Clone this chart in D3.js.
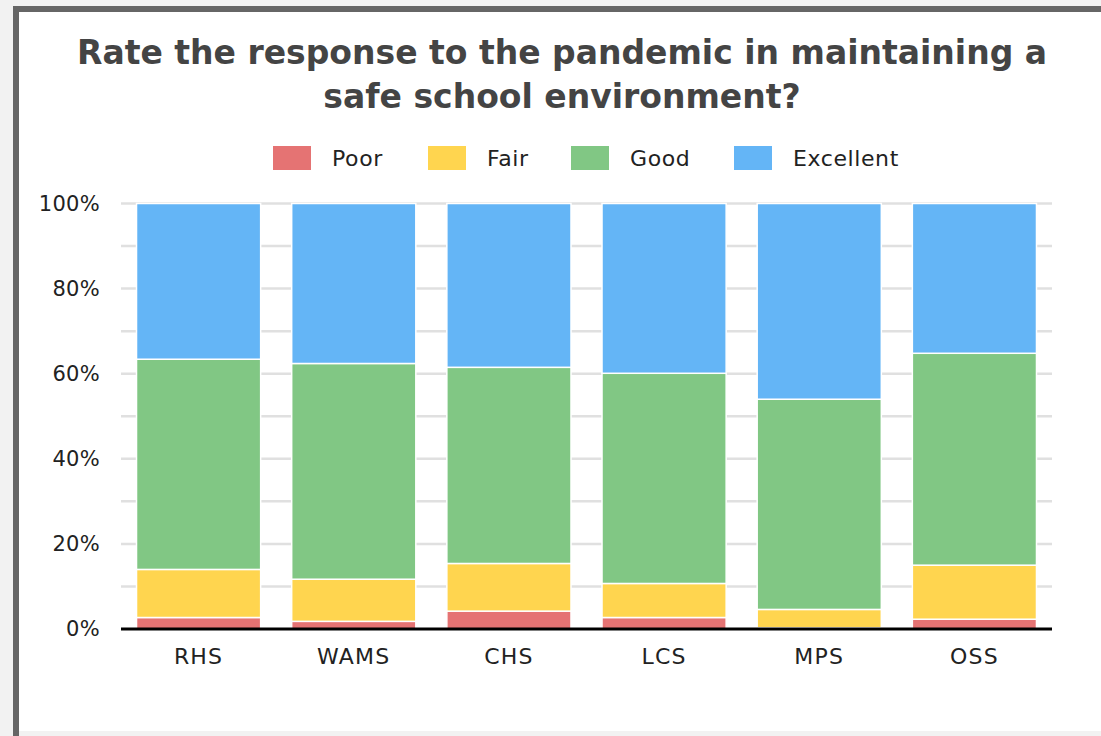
<!DOCTYPE html>
<html>
<head>
<meta charset="utf-8">
<script src="https://cdn.jsdelivr.net/npm/d3@7"></script>
<style>
  html, body { margin: 0; padding: 0; background: #f2f2f2; }
  svg { display: block; }
</style>
</head>
<body>
<script>
// chart data
var schools = ['RHS', 'WAMS', 'CHS', 'LCS', 'MPS', 'OSS'];
var ratings = ['Poor', 'Fair', 'Good', 'Excellent'];
var poor      = [2.7, 1.8, 4.2, 2.7, 0.3, 2.3];
var fair      = [11.3, 9.9, 11.2, 8.0, 4.3, 12.7];
var good      = [49.4, 50.7, 46.1, 49.4, 49.4, 49.8];
var excellent = [36.6, 37.6, 38.5, 39.9, 46.0, 35.2];
var yTicks = [0, 20, 40, 60, 80, 100];
var colors = ['#e57373', '#ffd54f', '#81c784', '#64b5f6'];

var W = 1101, H = 736;
var font = '"DejaVu Sans", sans-serif';

var svg = d3.select('body').append('svg')
    .attr('width', W)
    .attr('height', H);

// frame: dark left and top edge, white card
svg.append('rect').attr('x', 13).attr('y', 6).attr('width', W).attr('height', H)
    .attr('fill', '#666');
svg.append('rect').attr('x', 19).attr('y', 12).attr('width', W).attr('height', H)
    .attr('fill', '#fff');
svg.append('rect').attr('x', 19).attr('y', 731).attr('width', W).attr('height', 10)
    .attr('fill', '#f2f2f2');

// title
var title = svg.append('text')
    .attr('text-anchor', 'middle')
    .attr('fill', '#444')
    .attr('font-family', font)
    .attr('font-weight', 'bold')
    .attr('font-size', 33);
title.append('tspan').attr('x', 562).attr('y', 64).text('Rate the response to the pandemic in maintaining a');
title.append('tspan').attr('x', 562).attr('y', 108).text('safe school environment?');

// build stacked rows
var rows = schools.map(function(s, i) {
    return {school: s, Poor: poor[i], Fair: fair[i], Good: good[i], Excellent: excellent[i]};
});
var series = d3.stack().keys(ratings)(rows);

var margin = {left: 121, right: 49};
var x = d3.scaleBand()
    .domain(schools)
    .range([margin.left, W - margin.right])
    .paddingInner(0.2)
    .paddingOuter(0.1);
var y = d3.scaleLinear()
    .domain([0, 100])
    .range([629, 203.5]);

// gridlines every 10%
svg.append('g')
    .selectAll('line')
    .data(d3.range(10, 101, 10))
    .enter().append('line')
    .attr('x1', margin.left)
    .attr('x2', W - margin.right)
    .attr('y1', function(d) { return y(d); })
    .attr('y2', function(d) { return y(d); })
    .attr('stroke', '#e0e0e0')
    .attr('stroke-width', 2.5);

// bars
svg.append('g')
    .selectAll('g')
    .data(series)
    .enter().append('g')
    .attr('fill', function(d, i) { return colors[i]; })
    .selectAll('rect')
    .data(function(d) { return d; })
    .enter().append('rect')
    .attr('x', function(d) { return x(d.data.school); })
    .attr('width', x.bandwidth())
    .attr('y', function(d) { return y(d[1]); })
    .attr('height', function(d) { return y(d[0]) - y(d[1]); })
    .attr('stroke', '#fff')
    .attr('stroke-width', 1.5);

// baseline
svg.append('line')
    .attr('x1', margin.left)
    .attr('x2', W - margin.right)
    .attr('y1', y(0))
    .attr('y2', y(0))
    .attr('stroke', '#000')
    .attr('stroke-width', 3);

// y axis labels
var yAxis = svg.append('g')
    .attr('transform', 'translate(100,0)')
    .call(d3.axisLeft(y).tickValues(yTicks).tickSize(0).tickPadding(0)
        .tickFormat(function(d) { return d + '%'; }));
yAxis.select('.domain').remove();
yAxis.selectAll('text')
    .attr('font-family', font)
    .attr('font-size', 21)
    .attr('letter-spacing', 0.3)
    .attr('fill', '#222');

// x axis labels
var xAxis = svg.append('g')
    .attr('transform', 'translate(0,' + y(0) + ')')
    .call(d3.axisBottom(x).tickSize(0).tickPadding(19));
xAxis.select('.domain').remove();
xAxis.selectAll('text')
    .attr('font-family', font)
    .attr('font-size', 22)
    .attr('letter-spacing', 1.2)
    .attr('fill', '#222');

// legend
var legendX = [273, 428, 571, 734];
var legend = svg.append('g')
    .selectAll('g')
    .data(ratings)
    .enter().append('g')
    .attr('transform', function(d, i) { return 'translate(' + legendX[i] + ',146)'; });
legend.append('rect')
    .attr('width', 38)
    .attr('height', 24)
    .attr('fill', function(d, i) { return colors[i]; });
legend.append('text')
    .attr('x', 59)
    .attr('y', 20)
    .attr('font-family', font)
    .attr('font-size', 22)
    .attr('letter-spacing', 0.6)
    .attr('fill', '#222')
    .text(function(d) { return d; });
</script>
</body>
</html>
